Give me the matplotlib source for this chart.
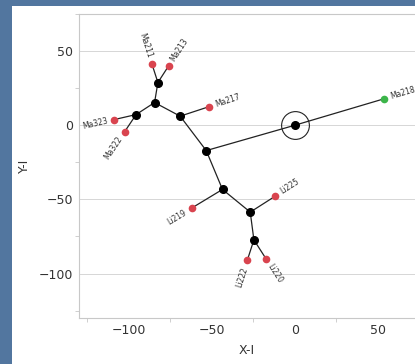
import numpy as np
import matplotlib
matplotlib.use("Agg")
import matplotlib.pyplot as plt
from matplotlib.patches import Rectangle
from matplotlib.ticker import MultipleLocator

# node positions (X-I, Y-I)
nodes = {
    "c0": (0.0, 0.0),
    "nA": (-53.4, -17.1),
    "nB": (-69.1, 6.1),
    "nC": (-84.5, 15.3),
    "nD": (-82.5, 28.8),
    "nE": (-95.6, 7.2),
    "nF": (-43.6, -43.3),
    "nG": (-26.9, -58.6),
    "nH": (-24.7, -77.3),
    "Ma218": (53.6, 17.8),
    "Ma217": (-52.0, 12.4),
    "Ma211": (-86.0, 41.0),
    "Ma213": (-76.1, 39.9),
    "Ma323": (-108.8, 3.8),
    "Ma322": (-102.6, -4.5),
    "Li219": (-62.2, -55.9),
    "Li225": (-11.8, -47.8),
    "Li222": (-28.7, -91.2),
    "Li220": (-17.5, -89.9),
}
edges = [("c0", "Ma218"), ("c0", "nA"), ("nA", "nB"), ("nB", "Ma217"),
         ("nB", "nC"), ("nC", "nD"), ("nD", "Ma211"), ("nD", "Ma213"),
         ("nC", "nE"), ("nE", "Ma323"), ("nE", "Ma322"), ("nA", "nF"),
         ("nF", "Li219"), ("nF", "nG"), ("nG", "Li225"), ("nG", "nH"),
         ("nH", "Li222"), ("nH", "Li220")]
leaf_parent = {"Ma218": "c0", "Ma217": "nB", "Ma211": "nD", "Ma213": "nD",
               "Ma323": "nE", "Ma322": "nE", "Li219": "nF", "Li225": "nG",
               "Li222": "nH", "Li220": "nH"}
green_leaves = ["Ma218"]

fig = plt.figure(figsize=(4.15, 3.64), dpi=100, facecolor="white")
# blue window frame on the left and top
fig.patches.append(Rectangle((0, 0), 12 / 415, 1, transform=fig.transFigure,
                             facecolor="#52769f", edgecolor="none"))
fig.patches.append(Rectangle((0, 1 - 6 / 364), 1, 6 / 364, transform=fig.transFigure,
                             facecolor="#52769f", edgecolor="none"))
ax = fig.add_axes([79 / 415, 46 / 364, 1 - 79 / 415, (318 - 14) / 364])
ax.set_xlim(-130, 72.3)
ax.set_ylim(-130, 75)
ax.set_facecolor("white")

for a, b in edges:
    (x1, y1), (x2, y2) = nodes[a], nodes[b]
    ax.plot([x1, x2], [y1, y2], color="#222222", lw=0.9, zorder=2)

inner = [k for k in nodes if k not in leaf_parent]
ax.plot([nodes[k][0] for k in inner], [nodes[k][1] for k in inner], "o",
        color="black", ms=5.5, zorder=3)
for k in leaf_parent:
    col = "#3cb54a" if k in green_leaves else "#d9444f"
    ax.plot(*nodes[k], "o", color=col, ms=5.5, mec="none", zorder=3)
ax.plot(*nodes["c0"], "o", mfc="none", mec="#222222", ms=20, mew=0.8, zorder=3)

# labels aligned with their branch
for k, p in leaf_parent.items():
    d0 = ax.transData.transform(nodes[p])
    d1 = ax.transData.transform(nodes[k])
    ang = np.degrees(np.arctan2(d1[1] - d0[1], d1[0] - d0[0]))
    ux, uy = np.cos(np.radians(ang)), np.sin(np.radians(ang))
    if -90 <= ang <= 90:
        rot, ha = ang, "left"
    else:
        rot, ha = ang - 180 if ang > 0 else ang + 180, "right"
    ax.annotate(k, nodes[k], xytext=(5 * ux, 5 * uy), textcoords="offset points",
                rotation=rot, ha=ha, va="center", rotation_mode="anchor",
                fontsize=5.5, color="#333333", zorder=4)

ax.xaxis.set_major_locator(MultipleLocator(50))
ax.yaxis.set_major_locator(MultipleLocator(50))
ax.xaxis.set_minor_locator(MultipleLocator(25))
ax.yaxis.set_minor_locator(MultipleLocator(25))
ax.tick_params(which="major", length=0, labelsize=9, labelcolor="#333333", pad=4)
ax.tick_params(which="minor", length=3, color="#c8c8c8")
ax.grid(axis="y", which="major", color="#d6d6d6", lw=0.7)
for s in ["left", "bottom", "top"]:
    ax.spines[s].set_color("#c8c8c8")
ax.spines["right"].set_visible(False)
ax.set_xlabel("X-I", fontsize=9, color="#333333", labelpad=5)
ax.set_ylabel("Y-I", fontsize=9, color="#333333", labelpad=6)

fig.savefig("out.png", dpi=100, facecolor=fig.get_facecolor())
